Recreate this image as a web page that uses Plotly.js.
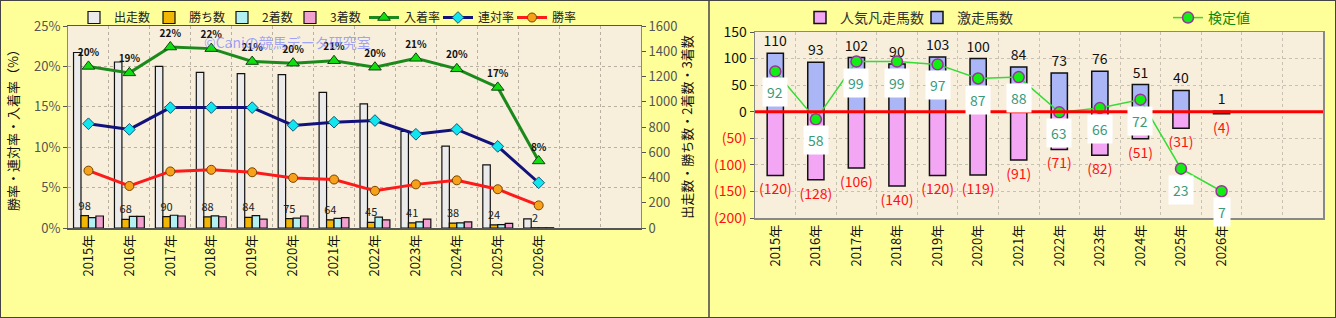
<!DOCTYPE html>
<html>
<head>
<meta charset="utf-8">
<script src="https://cdn.plot.ly/plotly-3.0.1.min.js"></script>
<style>
html,body{margin:0;padding:0;background:#ffff99;}
#chart{width:1336px;height:318px;}
</style>
</head>
<body>
<div id="chart"></div>
<script>
// ---- data ----
const years = ['2015年','2016年','2017年','2018年','2019年','2020年','2021年','2022年','2023年','2024年','2025年','2026年'];
const starts = [1390,1315,1280,1232,1222,1215,1075,983,765,648,500,72];
const wins   = [98,68,90,88,84,75,64,45,41,38,24,2];
const seconds= [82,92,101,96,98,79,77,86,48,41,26,2];
const thirds = [95,92,95,89,70,95,82,65,70,48,36,2];
const placeRate = [20.0,19.2,22.4,22.2,20.6,20.4,20.7,19.9,21.0,19.7,17.4,8.3];
const top2Rate  = [12.9,12.2,14.9,14.9,14.9,12.7,13.1,13.3,11.6,12.2,10.1,5.6];
const winRate   = [7.1,5.2,7.0,7.2,6.9,6.2,6.0,4.6,5.4,5.9,4.8,2.8];

const hotRuns  = [110,93,102,90,103,100,84,73,76,51,40,1];
const popFlops = [-120,-128,-106,-140,-120,-119,-91,-71,-82,-51,-31,-4];
const testVals = [92,58,99,99,97,87,88,63,66,72,23,7];

const pctTicks = [0,5,10,15,20,25];
const rightTicks = [150,100,50,0,-50,-100,-150,-200];

// ---- build ----
const idx = years.map((_, i) => i);
const FONT = '"Noto Sans CJK JP", "Noto Sans", sans-serif';
const barLine = {color:'#111', width:1.2};

const traces = [
  {type:'bar', name:'出走数', x:idx, y:starts, xaxis:'x', yaxis:'y',
   marker:{color:'#ebebeb', line:barLine}, legend:'legend'},
  {type:'bar', name:'勝ち数', x:idx, y:wins, xaxis:'x', yaxis:'y',
   marker:{color:'#f2b705', line:barLine}, text:wins.map(String), textposition:'outside',
   constraintext:'none', cliponaxis:false, textfont:{size:11, color:'#222', family:FONT}, legend:'legend5'},
  {type:'bar', name:'2着数', x:idx, y:seconds, xaxis:'x', yaxis:'y',
   marker:{color:'#b3f0f2', line:barLine}, legend:'legend6'},
  {type:'bar', name:'3着数', x:idx, y:thirds, xaxis:'x', yaxis:'y',
   marker:{color:'#f2a0cf', line:barLine}, legend:'legend7'},
  {type:'scatter', mode:'lines+markers+text', name:'入着率', x:idx, y:placeRate, xaxis:'x', yaxis:'y2',
   line:{color:'#1b8a1b', width:3}, marker:{symbol:'triangle-up', size:11, color:'#11dd11', line:{color:'#114411', width:1}},
   text:placeRate.map(v => Math.round(v) + '%'), textposition:'top center', cliponaxis:false,
   textfont:{size:10, color:'#111', family:FONT, weight:'bold'}, legend:'legend8'},
  {type:'scatter', mode:'lines+markers', name:'連対率', x:idx, y:top2Rate, xaxis:'x', yaxis:'y2',
   line:{color:'#12127a', width:3}, marker:{symbol:'diamond', size:9, color:'#11e6ee', line:{color:'#115577', width:1}}, legend:'legend9'},
  {type:'scatter', mode:'lines+markers', name:'勝率', x:idx, y:winRate, xaxis:'x', yaxis:'y2',
   line:{color:'#ff1a1a', width:3}, marker:{symbol:'circle', size:9, color:'#f7a01a', line:{color:'#774400', width:1}}, legend:'legend10'},

  {type:'bar', name:'人気凡走馬数', x:idx, y:popFlops, xaxis:'x2', yaxis:'y3', width:0.4, offset:-0.2,
   marker:{color:'#f3a6f3', line:{color:'#111', width:1.5}},
   text:popFlops.map(v => '(' + Math.abs(v) + ')'), textposition:'outside', constraintext:'none', cliponaxis:false,
   textfont:{size:14, color:'#ff1111', family:FONT}, legend:'legend2'},
  {type:'bar', name:'激走馬数', x:idx, y:hotRuns, xaxis:'x2', yaxis:'y3', width:0.4, offset:-0.2,
   marker:{color:'#aab6f6', line:{color:'#111', width:1.5}},
   text:hotRuns.map(String), textposition:'outside', constraintext:'none', cliponaxis:false,
   textfont:{size:14, color:'#111', family:FONT}, legend:'legend4'},
  {type:'scatter', mode:'lines+markers', name:'検定値', x:idx, y:testVals, xaxis:'x2', yaxis:'y4',
   line:{color:'#33dd33', width:1.5}, marker:{symbol:'circle', size:11, color:'#11ee11', line:{color:'#993399', width:1.5}},
   cliponaxis:false, legend:'legend3'}
];

const annotations = [
  {text:'©Caniの競馬データ研究室', xref:'paper', yref:'paper', x:0.215, y:(318-42)/318, xanchor:'center', yanchor:'middle',
   showarrow:false, font:{size:14, color:'rgba(120,130,255,0.7)', family:FONT}}
];
testVals.forEach((v, i) => {
  annotations.push({text:String(v), x:i, y:v, xref:'x2', yref:'y4', showarrow:false, yshift:-21,
    bgcolor:'#ffffff', borderpad:4, font:{size:14, color:'#3a9a7a', family:FONT}});
});

const gridCol = '#b8b0a0';
const legBase = {orientation:'h', xanchor:'left', yanchor:'top', bgcolor:'rgba(0,0,0,0)', itemwidth:30};
const legL = (px) => Object.assign({}, legBase, {x:px/1336, y:1-3/318, font:{size:12, color:'#222'}});
const legR = (px, col) => Object.assign({}, legBase, {x:px/1336, y:1-2/318, font:{size:14, color:col}});
const layout = {
  width:1336, height:318,
  margin:{l:0, r:0, t:0, b:0},
  paper_bgcolor:'#ffff99',
  plot_bgcolor:'#f7eedc',
  font:{family:FONT, size:12, color:'#111'},
  barmode:'group', bargap:0.27, bargroupgap:0,
  showlegend:true,
  xaxis:{domain:[68/1336, 641/1336], anchor:'y', range:[-0.5, 13.5],
    tickmode:'array', tickvals:idx, ticktext:years, tickangle:-90, ticks:'',
    tickfont:{size:13, color:'#111', family:FONT},
    showgrid:false, showline:true, linecolor:'#555', linewidth:1.5, mirror:true,
    minor:{tick0:0.5, dtick:1, showgrid:true, gridcolor:gridCol, griddash:'dot', gridwidth:1, ticks:''},
    zeroline:false, fixedrange:true},
  yaxis:{domain:[90/318, 292/318], anchor:'x', side:'right', range:[0,1600], dtick:200,
    showgrid:false, zeroline:false, ticks:'outside', ticklen:4, tickcolor:'#555',
    tickfont:{size:13, color:'#555'}, showline:true, linecolor:'#888', linewidth:1,
    title:{text:'出走数・勝ち数・2着数・3着数', font:{size:13, color:'#111'}, standoff:4}},
  yaxis2:{overlaying:'y', anchor:'x', side:'left', range:[0,25], tickmode:'array', tickvals:pctTicks,
    ticktext:pctTicks.map(v => v + '%'), showgrid:true, gridcolor:gridCol, griddash:'dot', gridwidth:1,
    zeroline:false, ticks:'outside', ticklen:4, tickcolor:'#555',
    tickfont:{size:13, color:'#555'}, showline:true, linecolor:'#888', linewidth:1,
    title:{text:'勝率・連対率・入着率（%）', font:{size:13, color:'#111'}, standoff:12}},

  xaxis2:{domain:[755/1336, 1323/1336], anchor:'y3', range:[-0.5, 13.5],
    tickmode:'array', tickvals:idx, ticktext:years, tickangle:-90, ticks:'',
    tickfont:{size:13, color:'#111', family:FONT},
    showgrid:false, showline:true, linecolor:'#888', linewidth:1.5, mirror:true,
    minor:{tick0:0.5, dtick:1, showgrid:true, gridcolor:'#c8c0b0', griddash:'dot', gridwidth:1, ticks:''},
    zeroline:false},
  yaxis3:{domain:[100/318, 286/318], anchor:'x2', range:[-200,150], tickmode:'array', tickvals:rightTicks,
    ticktext:rightTicks.map(v => v < 0 ? '<span style="color:#ff1111">(' + Math.abs(v) + ')</span>' : String(v)),
    showgrid:true, gridcolor:'#c8c0b0', griddash:'dot', gridwidth:1, zeroline:false,
    ticks:'outside', ticklen:4, tickcolor:'#555', tickfont:{size:14, color:'#111'},
    showline:true, linecolor:'#888', linewidth:1.5, mirror:true},
  yaxis4:{overlaying:'y3', anchor:'x2', range:[-12,120], visible:false},

  legend:legL(74), legend5:legL(149), legend6:legL(222), legend7:legL(290),
  legend8:legL(364), legend9:legL(438), legend10:legL(512),
  legend2:legR(800, '#333'),
  legend4:legR(917, '#333'),
  legend3:legR(1168, '#0a8a0a'),

  shapes:[
    {type:'rect', xref:'paper', yref:'paper', x0:0, x1:1, y0:0, y1:1, line:{color:'#444', width:2}, layer:'above'},
    {type:'line', xref:'paper', yref:'paper', x0:709/1336, x1:709/1336, y0:0, y1:1, line:{color:'#444', width:1.5}, layer:'above'},
    {type:'line', xref:'x2 domain', yref:'y3', x0:0, x1:1, y0:0, y1:0, line:{color:'#ff0000', width:3}, layer:'above'}
  ],
  annotations:annotations
};

Plotly.newPlot('chart', traces, layout, {staticPlot:true, displayModeBar:false});
</script>
</body>
</html>
